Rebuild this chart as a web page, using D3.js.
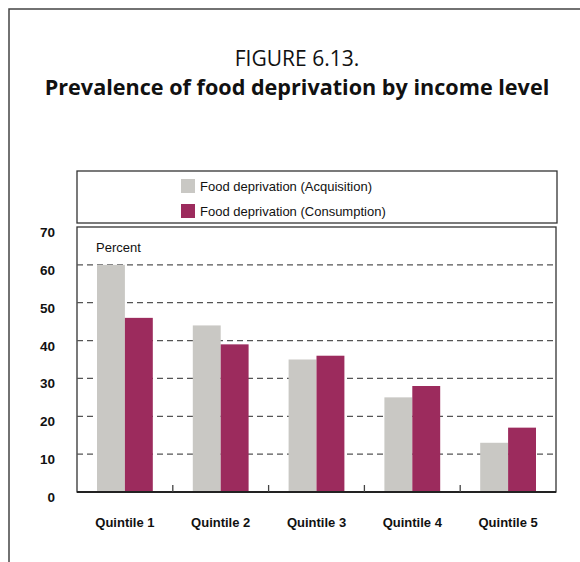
<!DOCTYPE html>
<html>
<head>
<meta charset="utf-8">
<script src="https://cdn.jsdelivr.net/npm/d3@7"></script>
<style>
  body { margin: 0; background: #fff; }
  svg { display: block; }
</style>
</head>
<body>
<div class="chart"></div>
<script>
// data
const categories = ['Quintile 1', 'Quintile 2', 'Quintile 3', 'Quintile 4', 'Quintile 5'];
const acquisition = [60, 44, 35, 25, 13];
const consumption = [46, 39, 36, 28, 17];
const seriesNames = ['Food deprivation (Acquisition)', 'Food deprivation (Consumption)'];
const seriesColors = ['#c9c8c4', '#9c2b5d'];
const yTicks = [0, 10, 20, 30, 40, 50, 60, 70];

const outerWidth = 580;
const outerHeight = 562;
const plot = {left: 77, right: 556, top: 227, bottom: 492};

const svg = d3.select('.chart')
  .append('svg')
  .attr('width', outerWidth)
  .attr('height', outerHeight);

// outer frame (left + top only)
svg.append('path')
  .attr('d', 'M9,562 V9 H580')
  .attr('fill', 'none')
  .attr('stroke', '#444')
  .attr('stroke-width', 1.5);

// title
svg.append('text')
  .attr('x', 297).attr('y', 66)
  .attr('text-anchor', 'middle')
  .attr('font-family', 'Open Sans')
  .attr('font-size', 21)
  .attr('fill', '#111')
  .text('FIGURE 6.13.');

svg.append('text')
  .attr('x', 297).attr('y', 95)
  .attr('text-anchor', 'middle')
  .attr('font-family', 'Open Sans')
  .attr('font-weight', 'bold')
  .attr('font-size', 21.6)
  .attr('fill', '#111')
  .text('Prevalence of food deprivation by income level');

// legend box
svg.append('rect')
  .attr('x', 77).attr('y', 171)
  .attr('width', 480).attr('height', 52)
  .attr('fill', 'none')
  .attr('stroke', '#333')
  .attr('stroke-width', 1.3);

const legend = svg.selectAll('.legend')
  .data(seriesNames)
  .enter()
  .append('g')
  .attr('transform', (d, i) => 'translate(181,' + (179 + i * 25) + ')');

legend.append('rect')
  .attr('width', 14).attr('height', 14)
  .attr('fill', (d, i) => seriesColors[i]);

legend.append('text')
  .attr('x', 19).attr('y', 12)
  .attr('font-family', 'Liberation Sans, Arial, sans-serif')
  .attr('font-size', 13)
  .attr('fill', '#111')
  .text(d => d);

// scales
const xScale = d3.scaleBand()
  .domain(categories)
  .range([plot.left, plot.right]);

const bandPad = 20;
const xInner = d3.scaleBand()
  .domain([0, 1])
  .range([bandPad, xScale.bandwidth() - bandPad]);

const yScale = d3.scaleLinear()
  .domain([0, 70])
  .range([plot.bottom, plot.top]);

// plot frame
svg.append('rect')
  .attr('x', plot.left).attr('y', plot.top)
  .attr('width', plot.right - plot.left)
  .attr('height', plot.bottom - plot.top)
  .attr('fill', 'none')
  .attr('stroke', '#333')
  .attr('stroke-width', 1.3);

// dashed gridlines
svg.selectAll('.grid')
  .data(yTicks.filter(d => d > 0 && d < 70))
  .enter()
  .append('line')
  .attr('x1', plot.left).attr('x2', plot.right)
  .attr('y1', d => yScale(d)).attr('y2', d => yScale(d))
  .attr('stroke', '#555')
  .attr('stroke-width', 1.3)
  .attr('stroke-dasharray', '6,4');

// y tick labels
svg.selectAll('.ylab')
  .data(yTicks)
  .enter()
  .append('text')
  .attr('x', 55)
  .attr('y', d => yScale(d) + 10)
  .attr('text-anchor', 'end')
  .attr('font-family', 'Liberation Sans, Arial, sans-serif')
  .attr('font-weight', 'bold')
  .attr('font-size', 13.5)
  .attr('fill', '#111')
  .text(d => d);

svg.append('text')
  .attr('x', 96).attr('y', 252)
  .attr('font-family', 'Liberation Sans, Arial, sans-serif')
  .attr('font-size', 13)
  .attr('fill', '#111')
  .text('Percent');

// bars
const series = [acquisition, consumption];
const groups = svg.selectAll('.group')
  .data(categories)
  .enter()
  .append('g')
  .attr('transform', d => 'translate(' + xScale(d) + ',0)');

groups.selectAll('rect')
  .data((d, ci) => series.map((s, si) => ({si: si, v: s[ci]})))
  .enter()
  .append('rect')
  .attr('x', d => xInner(d.si))
  .attr('width', xInner.bandwidth())
  .attr('y', d => yScale(d.v))
  .attr('height', d => yScale(0) - yScale(d.v))
  .attr('fill', d => seriesColors[d.si]);

// x axis line and category separators
svg.append('line')
  .attr('x1', plot.left).attr('x2', plot.right)
  .attr('y1', plot.bottom).attr('y2', plot.bottom)
  .attr('stroke', '#222')
  .attr('stroke-width', 2);

svg.selectAll('.sep')
  .data(categories.slice(1))
  .enter()
  .append('line')
  .attr('x1', d => xScale(d)).attr('x2', d => xScale(d))
  .attr('y1', plot.bottom).attr('y2', plot.bottom - 7)
  .attr('stroke', '#444')
  .attr('stroke-width', 1.3);

// x labels
svg.selectAll('.xlab')
  .data(categories)
  .enter()
  .append('text')
  .attr('x', d => xScale(d) + xScale.bandwidth() / 2)
  .attr('y', 527)
  .attr('text-anchor', 'middle')
  .attr('font-family', 'Liberation Sans, Arial, sans-serif')
  .attr('font-weight', 'bold')
  .attr('font-size', 13)
  .attr('fill', '#111')
  .text(d => d);
</script>
</body>
</html>
